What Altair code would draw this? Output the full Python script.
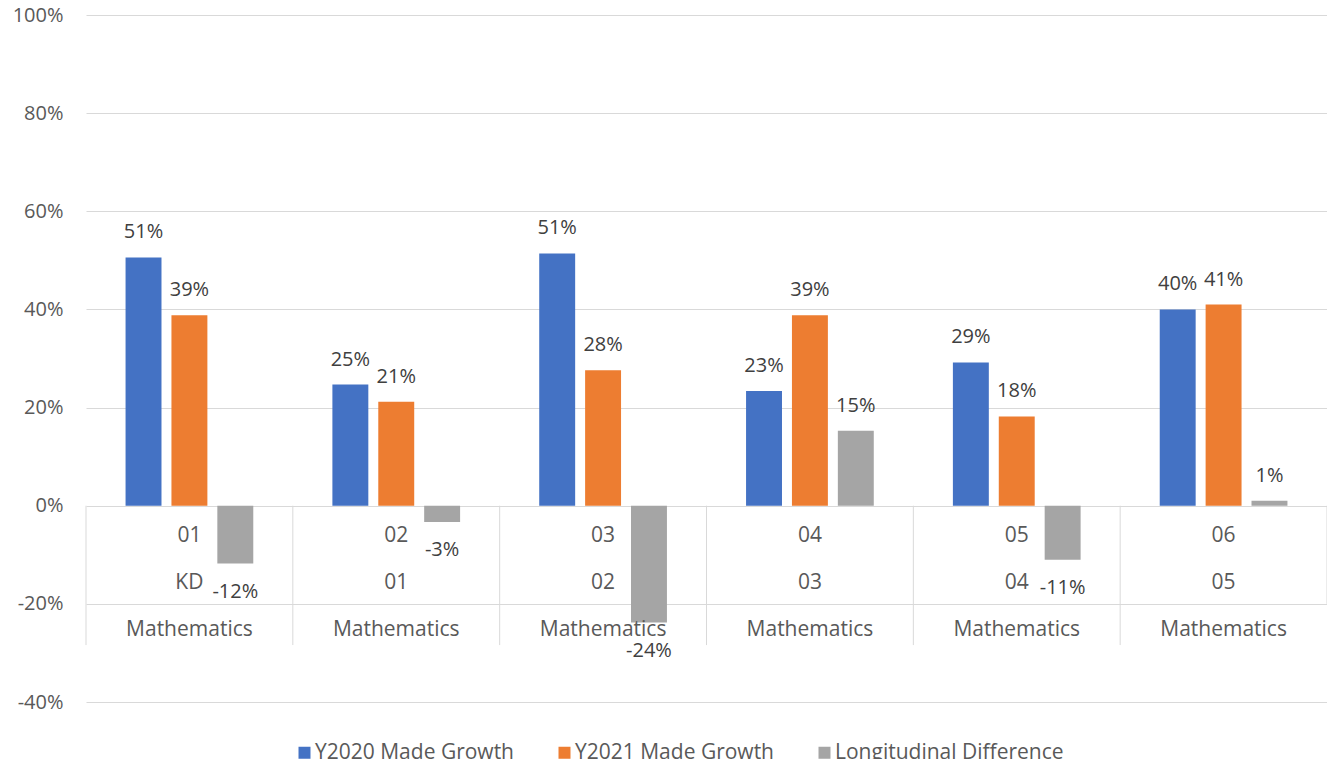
import altair as alt
import pandas as pd

grades = ["01", "02", "03", "04", "05", "06"]
prior_grades = ["KD", "01", "02", "03", "04", "05"]
subjects = ["Mathematics"] * 6
series_names = ["Y2020 Made Growth", "Y2021 Made Growth", "Longitudinal Difference"]
y2020 = [0.506, 0.247, 0.514, 0.234, 0.292, 0.400]
y2021 = [0.388, 0.212, 0.276, 0.388, 0.182, 0.410]
diff = [-0.118, -0.033, -0.238, 0.153, -0.110, 0.010]
colors = ["#4472C4", "#ED7D31", "#A5A5A5"]
y_ticks = [-0.4, -0.2, 0.0, 0.2, 0.4, 0.6, 0.8, 1.0]

rows = []
for i, g in enumerate(grades):
    for s, vals in zip(series_names, [y2020, y2021, diff]):
        rows.append({"grade": g, "series": s, "value": vals[i]})
bars_df = pd.DataFrame(rows)
cats_df = pd.DataFrame({"grade": grades, "prior": prior_grades, "subject": subjects})

FONT = "Open Sans"
MINUS = "\u2212"

x_scale = alt.Scale(domain=grades, paddingInner=0, paddingOuter=0)
y_scale = alt.Scale(domain=[-0.4, 1.0], nice=False, zero=False)
xo_scale = alt.Scale(domain=series_names, paddingInner=0.217, paddingOuter=0.862)

x_enc = alt.X("grade:N", scale=x_scale, axis=None, sort=grades)

bars = alt.Chart(bars_df).mark_bar().encode(
    x=x_enc,
    xOffset=alt.XOffset("series:N", scale=xo_scale, sort=series_names),
    y=alt.Y(
        "value:Q",
        scale=y_scale,
        axis=alt.Axis(
            values=y_ticks,
            format=".0%",
            labelExpr=f"replace(datum.label, '{MINUS}', '-')",
            labelFont=FONT,
            labelFontSize=20,
            labelColor="#595959",
            labelPadding=23,
            ticks=False,
            domain=False,
            grid=True,
            gridColor="#D9D9D9",
            gridWidth=1,
            title=None,
        ),
    ),
    y2=alt.datum(0),
    color=alt.Color(
        "series:N",
        scale=alt.Scale(domain=series_names, range=colors),
        legend=alt.Legend(
            title=None,
            orient="none",
            legendX=208,
            legendY=727,
            direction="horizontal",
            symbolType="square",
            symbolSize=144,
            symbolStrokeWidth=0,
            labelFont=FONT,
            labelFontSize=21,
            labelColor="#595959",
            labelOffset=0,
            labelLimit=0,
            columnPadding=40,
        ),
    ),
)

label_base = alt.Chart(bars_df).transform_calculate(
    label=f"replace(format(datum.value, '.0%'), '{MINUS}', '-')"
)
label_enc = dict(
    x=x_enc,
    xOffset=alt.XOffset("series:N", scale=xo_scale, sort=series_names),
    y=alt.Y("value:Q", scale=y_scale),
    text="label:N",
)
pos_labels = label_base.transform_filter("datum.value >= 0").mark_text(
    font=FONT, fontSize=20, color="#404040", baseline="middle", dy=-25
).encode(**label_enc)
neg_labels = label_base.transform_filter("datum.value < 0").mark_text(
    font=FONT, fontSize=20, color="#404040", baseline="middle", dy=28
).encode(**label_enc)

xc = alt.X("grade:N", scale=x_scale, axis=None, sort=grades, bandPosition=0.5)
cat_text = dict(font=FONT, fontSize=21, color="#595959", baseline="middle", align="center")
lvl1 = alt.Chart(cats_df).mark_text(**cat_text).encode(x=xc, y=alt.datum(-0.062), text="grade:N")
lvl2 = alt.Chart(cats_df).mark_text(**cat_text).encode(x=xc, y=alt.datum(-0.158), text="prior:N")
lvl3 = alt.Chart(cats_df).mark_text(**cat_text).encode(x=xc, y=alt.datum(-0.253), text="subject:N")

seps = alt.Chart(cats_df).mark_rule(color="#D9D9D9", strokeWidth=1).encode(
    x=alt.X("grade:N", scale=x_scale, axis=None, sort=grades, bandPosition=0),
    y=alt.datum(0),
    y2=alt.datum(-0.284),
)
right_edge = alt.Chart(cats_df).transform_filter("datum.grade == '06'").mark_rule(
    color="#D9D9D9", strokeWidth=1
).encode(
    x=alt.X("grade:N", scale=x_scale, axis=None, sort=grades, bandPosition=1),
    y=alt.datum(0),
    y2=alt.datum(-0.2),
)

chart = alt.layer(
    seps, right_edge, bars, pos_labels, neg_labels, lvl1, lvl2, lvl3
).properties(
    width=1241,
    height=687,
    autosize=alt.AutoSizeParams(type="none"),
    padding={"left": 78, "top": 7, "right": 0, "bottom": 57},
).configure_view(stroke=None)

chart.save("out.html", embed_options={"renderer": "svg", "actions": False})
